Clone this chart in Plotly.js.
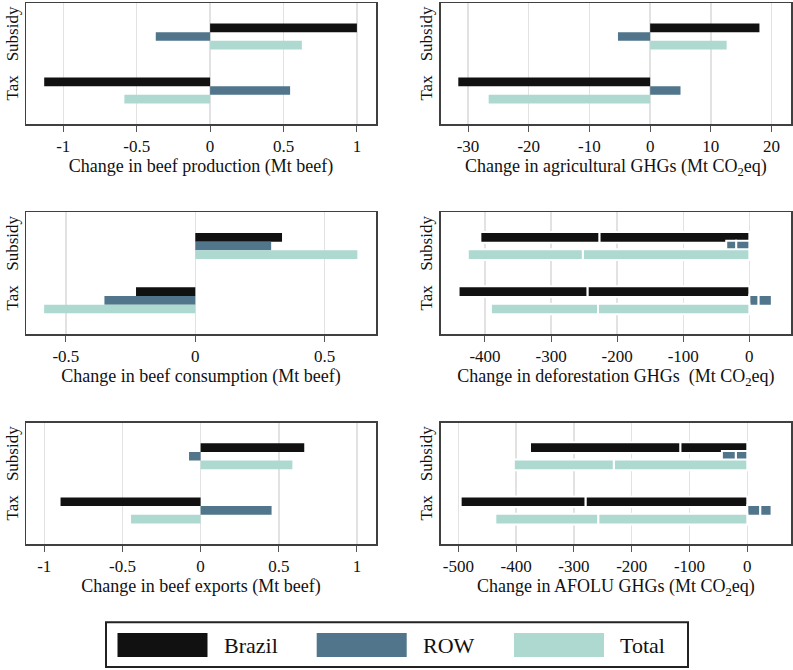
<!DOCTYPE html>
<html><head><meta charset="utf-8">
<script src="https://cdn.plot.ly/plotly-3.0.1.min.js"></script>
<style>html,body{margin:0;padding:0;background:#fff}#chart{width:793px;height:670px}</style>
</head><body><div id="chart"></div>
<script>
// ---------- data ----------
const policies = ['Subsidy', 'Tax'];
const seriesNames = ['Brazil', 'ROW', 'Total'];
const seriesColors = ['#111111', '#51758a', '#add9d1'];

// Change in beef production (Mt beef)
const prodBrazil = [1.0, -1.13];
const prodROW = [-0.37, 0.545];
const prodTotal = [0.625, -0.584];

// Change in agricultural GHGs (Mt CO2eq)
const agriBrazil = [18.0, -31.6];
const agriROW = [-5.3, 5.0];
const agriTotal = [12.6, -26.6];

// Change in beef consumption (Mt beef)
const consBrazil = [0.335, -0.229];
const consROW = [0.293, -0.351];
const consTotal = [0.626, -0.584];

// Change in beef exports (Mt beef)
const expBrazil = [0.663, -0.896];
const expROW = [-0.074, 0.454];
const expTotal = [0.587, -0.445];

// Change in deforestation GHGs (Mt CO2eq): two stacked components
const defBrazilA = [-227, -245];
const defBrazilB = [-180, -195];
const defROWA = [-20, 14];
const defROWB = [-15, 20];
const defTotalA = [-252, -229];
const defTotalB = [-174, -162];

// Change in AFOLU GHGs (Mt CO2eq): two stacked components
const afoluBrazilA = [-116, -280];
const afoluBrazilB = [-260, -216];
const afoluROWA = [-20, 22.5];
const afoluROWB = [-24, 19.5];
const afoluTotalA = [-231, -258];
const afoluTotalB = [-173, -178];

// tick labels
const tickBeefVals = [-1, -0.5, 0, 0.5, 1];
const tickBeefText = ['-1', '-0.5', '0', '0.5', '1'];
const tickConsVals = [-0.5, 0, 0.5];
const tickConsText = ['-0.5', '0', '0.5'];
const tickAgriVals = [-30, -20, -10, 0, 10, 20];
const tickAgriText = ['-30', '-20', '-10', '0', '10', '20'];
const tickDefVals = [-400, -300, -200, -100, 0];
const tickDefText = ['-400', '-300', '-200', '-100', '0'];
const tickAfoluVals = [-500, -400, -300, -200, -100, 0];
const tickAfoluText = ['-500', '-400', '-300', '-200', '-100', '0'];

const axisTitles = [
  'Change in beef production (Mt beef)',
  'Change in agricultural GHGs (Mt CO<sub>2</sub>eq)',
  'Change in beef consumption (Mt beef)',
  'Change in deforestation GHGs\u00a0 (Mt CO<sub>2</sub>eq)',
  'Change in beef exports (Mt beef)',
  'Change in AFOLU GHGs (Mt CO<sub>2</sub>eq)'
];

// ---------- layout helpers ----------
const W = 793, H = 670;
const FONT = 'Liberation Serif';
const colX = [[26, 376], [440.7, 791]];
const rowY = [[3, 124], [212.3, 334], [422.7, 544]];
const rowsPx = 54; // px per category unit

const panels = [
  {simple: [prodBrazil, prodROW, prodTotal], range: [-1.254, 1.13], tv: tickBeefVals, tt: tickBeefText},
  {simple: [agriBrazil, agriROW, agriTotal], range: [-34.5, 23.2], tv: tickAgriVals, tt: tickAgriText},
  {simple: [consBrazil, consROW, consTotal], range: [-0.654, 0.698], tv: tickConsVals, tt: tickConsText},
  {stacked: [[defBrazilA, defBrazilB], [defROWA, defROWB], [defTotalA, defTotalB]], range: [-467, 63], tv: tickDefVals, tt: tickDefText},
  {simple: [expBrazil, expROW, expTotal], range: [-1.117, 1.122], tv: tickBeefVals, tt: tickBeefText},
  {stacked: [[afoluBrazilA, afoluBrazilB], [afoluROWA, afoluROWB], [afoluTotalA, afoluTotalB]], range: [-530.5, 75.6], tv: tickAfoluVals, tt: tickAfoluText}
];

const traces = [];
const layout = {
  width: W, height: H,
  margin: {l: 0, r: 0, t: 0, b: 0},
  paper_bgcolor: '#ffffff', plot_bgcolor: '#ffffff',
  barmode: 'overlay',
  showlegend: false,
  font: {family: FONT, color: '#111111', size: 17},
  shapes: [], annotations: []
};

const barW = 0.16, barStart = -0.24;
panels.forEach((p, k) => {
  const s = k === 0 ? '' : String(k + 1);
  const col = k % 2, row = Math.floor(k / 2);
  const xa = 'x' + s, ya = 'y' + s;
  if (p.simple) {
    p.simple.forEach((vals, i) => {
      traces.push({
        type: 'bar', orientation: 'h', name: seriesNames[i],
        y: policies, x: vals, xaxis: xa, yaxis: ya,
        width: barW, offset: barStart + barW * i,
        marker: {color: seriesColors[i], line: {width: 0}},
        hoverinfo: 'x+name'
      });
    });
  } else {
    const sw = 2, ext = sw / rowsPx;
    p.stacked.forEach((pair, i) => {
      traces.push({
        type: 'bar', orientation: 'h', name: seriesNames[i],
        y: policies, x: pair[0], xaxis: xa, yaxis: ya,
        width: barW + ext, offset: barStart + barW * i - ext / 2,
        marker: {color: seriesColors[i], line: {width: sw, color: '#ffffff'}},
        hoverinfo: 'x+name'
      });
      traces.push({
        type: 'bar', orientation: 'h', name: seriesNames[i],
        y: policies, x: pair[1], base: pair[0], xaxis: xa, yaxis: ya,
        width: barW + ext, offset: barStart + barW * i - ext / 2,
        marker: {color: seriesColors[i], line: {width: sw, color: '#ffffff'}},
        hoverinfo: 'x+name'
      });
    });
  }
  const top = rowY[row][0], bot = rowY[row][1];
  const pad = 33.5 / rowsPx;
  layout['xaxis' + s] = {
    domain: [colX[col][0] / W, colX[col][1] / W],
    anchor: ya, range: p.range,
    tickmode: 'array', tickvals: p.tv, ticktext: p.tt,
    ticks: 'outside', ticklen: 6, tickwidth: 1, tickcolor: '#555555',
    tickfont: {size: 17, family: FONT, color: '#111111'},
    showgrid: true, gridcolor: '#e2e2e2', gridwidth: 1.5,
    zeroline: false,
    showline: true, mirror: true, linecolor: '#404040', linewidth: 1.5,
    title: {text: axisTitles[k], font: {size: 18, family: FONT, color: '#111111'}, standoff: 0},
    fixedrange: true
  };
  layout['yaxis' + s] = {
    domain: [1 - bot / H, 1 - top / H],
    anchor: xa, type: 'category', categoryorder: 'array', categoryarray: policies,
    range: [1 + pad, -pad],
    ticks: '', tickangle: -90,
    tickfont: {size: 17, family: FONT, color: '#111111'},
    showgrid: false, zeroline: false,
    showline: true, mirror: true, linecolor: '#404040', linewidth: 1.5,
    fixedrange: true
  };
});

// ---------- legend drawn as shapes + text ----------
const legTop = 622.3, legBot = 667, legL = 106, legR = 688;
const legLine = {color: '#222222', width: 2};
layout.shapes.push({type: 'rect', xref: 'paper', yref: 'paper', x0: legL / W, x1: legR / W, y0: 1 - legBot / H, y1: 1 - legTop / H, line: legLine, fillcolor: 'rgba(0,0,0,0)'});
const swX = [117.5, 316.7, 514], swW = 90, swT = 633, swB = 657;
seriesNames.forEach((nm, i) => {
  layout.shapes.push({type: 'rect', xref: 'paper', yref: 'paper',
    x0: swX[i] / W, x1: (swX[i] + swW) / W, y0: 1 - swB / H, y1: 1 - swT / H,
    fillcolor: seriesColors[i], line: {width: 0}});
  layout.annotations.push({xref: 'paper', yref: 'paper', x: (swX[i] + swW + 14) / W, y: 1 - 645 / H,
    xanchor: 'left', yanchor: 'middle', text: nm, showarrow: false,
    font: {size: 22, family: FONT, color: '#111111'}});
});

Plotly.newPlot('chart', traces, layout, {displayModeBar: false, staticPlot: true});
</script>
</body></html>
